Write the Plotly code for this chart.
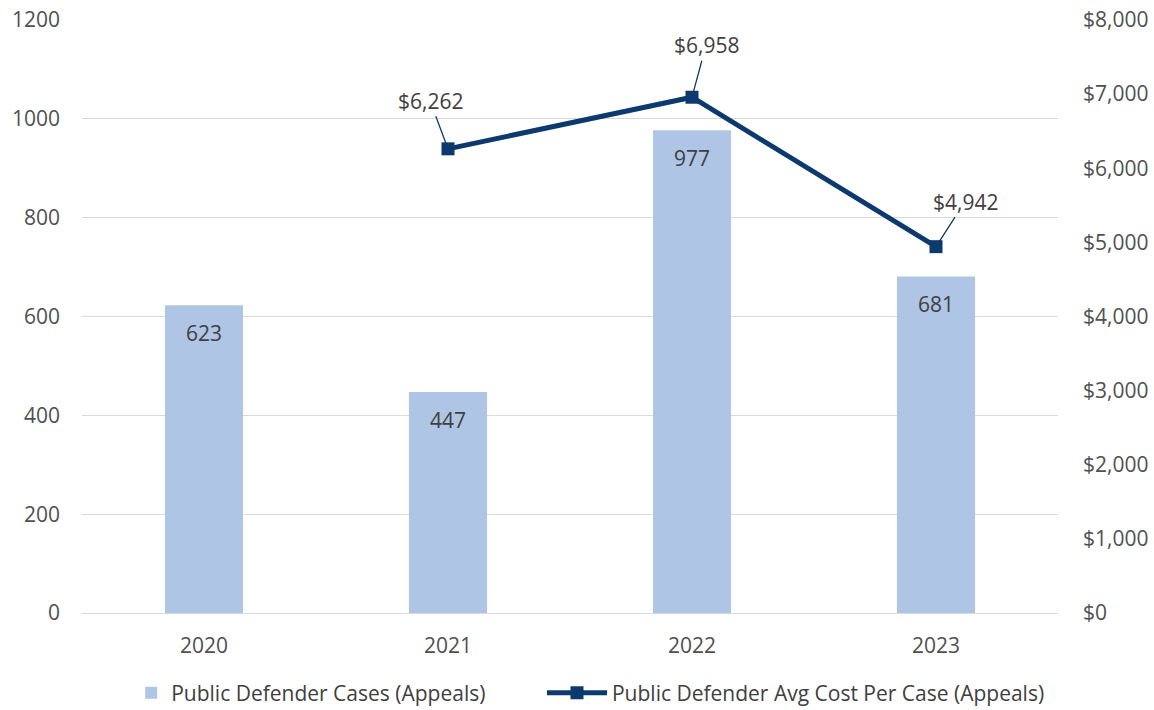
import plotly.graph_objects as go

years = ["2020", "2021", "2022", "2023"]
cases = [623, 447, 977, 681]
avg_cost = [None, 6262, 6958, 4942]

# label offsets (pixels) for the cost callouts
cost_label_offsets = {"2021": (-18, -48), "2022": (14, -52), "2023": (29, -45)}

FONT = "Open Sans"
TXT = "#404040"
TICK = "#505050"
BAR = "#AEC5E6"
NAVY = "#0D3A6E"
GRID = "#D9D9D9"
FS = 21

fig = go.Figure()

fig.add_trace(go.Bar(
    x=years, y=cases, name="Public Defender Cases (Appeals)",
    marker=dict(color=BAR, line=dict(width=0)),
    width=0.32, yaxis="y", legend="legend",
))

fig.add_trace(go.Scatter(
    x=years, y=avg_cost, name="Public Defender Avg Cost Per Case (Appeals)",
    mode="lines+markers", yaxis="y2", connectgaps=False,
    line=dict(color=NAVY, width=5),
    marker=dict(symbol="square", size=13, color=NAVY),
    legend="legend2",
))

annotations = []
for i, v in enumerate(cases):
    annotations.append(dict(
        x=i, y=v, xref="x", yref="y", text=f"{v:,}", showarrow=False,
        yshift=-28, font=dict(family=FONT, size=FS, color=TXT),
    ))
for i, (yr, v) in enumerate(zip(years, avg_cost)):
    if v is None:
        continue
    ax, ay = cost_label_offsets[yr]
    annotations.append(dict(
        x=i, y=v, xref="x", yref="y2", text=f"${v:,}", showarrow=True,
        arrowhead=0, arrowwidth=1.3, arrowcolor=NAVY, ax=ax, ay=ay,
        standoff=6, font=dict(family=FONT, size=FS, color=TXT),
    ))

legend_common = dict(
    orientation="h", y=-0.135, yanchor="middle", xanchor="left",
    font=dict(family=FONT, size=FS, color=TXT), bgcolor="rgba(0,0,0,0)",
)

fig.update_layout(
    width=1154, height=710,
    margin=dict(l=82, r=96, t=20, b=97, autoexpand=False),
    paper_bgcolor="white", plot_bgcolor="white",
    font=dict(family=FONT, size=FS, color=TXT),
    showlegend=True,
    legend=dict(x=0.0504, itemwidth=30, **legend_common),
    legend2=dict(x=0.4713, itemwidth=60, **legend_common),
    xaxis=dict(
        type="category", categoryorder="array", categoryarray=years,
        range=[-0.5, 3.5], autorange=False,
        showgrid=False, showline=False, ticks="",
        tickfont=dict(family=FONT, size=FS, color=TICK),
        ticklabelstandoff=18,
    ),
    yaxis=dict(
        range=[0, 1200], dtick=200, showgrid=True, gridcolor=GRID, gridwidth=1,
        zeroline=True, zerolinecolor=GRID, zerolinewidth=1, showline=False,
        tickfont=dict(family=FONT, size=FS, color=TICK), ticklabelstandoff=21,
    ),
    yaxis2=dict(
        range=[0, 8000], dtick=1000, overlaying="y", side="right",
        showgrid=False, zeroline=False, showline=False,
        tickprefix="$", tickformat=",d",
        tickfont=dict(family=FONT, size=FS, color=TICK), ticklabelstandoff=24,
    ),
    annotations=annotations,
)

fig.write_html("out.html")
